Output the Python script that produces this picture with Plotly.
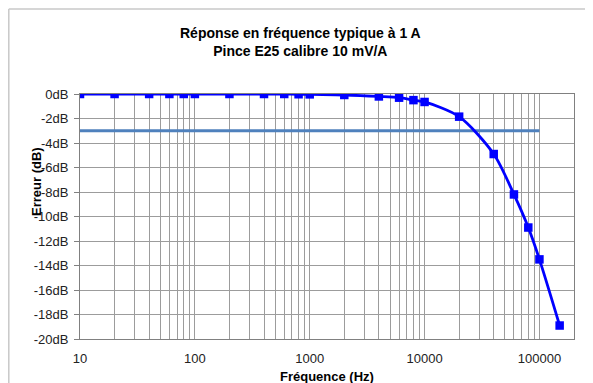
import plotly.graph_objects as go

# ---- data ----
freq_hz = [10, 20, 40, 60, 80, 100, 200, 400, 600, 800, 1000, 2000, 4000, 6000,
           8000, 10000, 20000, 40000, 60000, 80000, 100000, 150000]
error_db = [0, 0, 0, 0, 0, 0, 0, 0, 0, -0.02, -0.03, -0.08, -0.2, -0.3,
            -0.5, -0.65, -1.85, -4.9, -8.2, -10.9, -13.5, -18.9]
ref_freq = [10, 100000]
ref_db = [-3, -3]

x_grid_vals = [m * 10 ** e for e in range(1, 5) for m in range(1, 10)] + [100000]
x_tick_labels = ["10", "100", "1000", "10000", "100000"]
y_tick_vals = [0, -2, -4, -6, -8, -10, -12, -14, -16, -18, -20]
y_tick_labels = ["0dB", "-2dB", "-4dB", "-6dB", "-8dB", "-10dB", "-12dB",
                 "-14dB", "-16dB", "-18dB", "-20dB"]

title_text = "<b>Réponse en fréquence typique à 1 A<br>Pince E25 calibre 10 mV/A</b>"
x_title = "<b>Fréquence (Hz)</b>"
y_title = "<b>Erreur (dB)</b>"

label_map = {10: "10", 100: "100", 1000: "1000", 10000: "10000", 100000: "100000"}
x_text = [label_map.get(v, "") for v in x_grid_vals]

FONT = "Liberation Sans, Arial, sans-serif"
W, H = 585, 375          # page body has an 8px margin
L, R, T, B = 72, 19, 86, 44
PW, PH = W - L - R, H - T - B


def px_x(px):  # figure pixel -> paper x
    return (px - L) / PW


def px_y(py):  # figure pixel -> paper y
    return (H - B - py) / PH


fig = go.Figure()
fig.add_trace(go.Scatter(
    x=ref_freq, y=ref_db, mode="lines",
    line=dict(color="#4f81bd", width=3), hoverinfo="skip", showlegend=False))
fig.add_trace(go.Scatter(
    x=freq_hz, y=error_db, mode="lines+markers",
    line=dict(color="#0000ff", width=2.8, shape="spline", smoothing=0.8),
    marker=dict(symbol="square", size=8.5, color="#0000ff"),
    showlegend=False))

fig.update_layout(
    width=W, height=H,
    margin=dict(l=L, r=R, t=T, b=B),
    paper_bgcolor="white", plot_bgcolor="white",
    font=dict(family=FONT, size=13, color="#222222"),
    showlegend=False,
    annotations=[
        dict(text=title_text, x=px_x(292), y=px_y(34),
             xref="paper", yref="paper", showarrow=False,
             xanchor="center", yanchor="middle",
             font=dict(family=FONT, size=14, color="black")),
        dict(text=x_title, x=0.5, y=px_y(368),
             xref="paper", yref="paper", showarrow=False,
             xanchor="center", yanchor="middle",
             font=dict(family=FONT, size=13, color="black")),
        dict(text=y_title, x=px_x(28), y=px_y(174),
             xref="paper", yref="paper", showarrow=False, textangle=-90,
             xanchor="center", yanchor="middle",
             font=dict(family=FONT, size=13, color="black")),
    ],
    shapes=[
        dict(type="line", xref="paper", yref="paper",
             x0=px_x(0.8), x1=px_x(0.8), y0=px_y(H + 5), y1=px_y(1),
             line=dict(color="#c8c8c8", width=1.5)),
        dict(type="line", xref="paper", yref="paper",
             x0=px_x(0.8), x1=px_x(W + 5), y0=px_y(1), y1=px_y(1),
             line=dict(color="#c8c8c8", width=1.5)),
    ],
)

fig.update_xaxes(
    type="log", range=[1, 5.301],
    tickmode="array", tickvals=x_grid_vals, ticktext=x_text,
    showgrid=True, gridcolor="#9c9c9c", gridwidth=1,
    ticks="outside", ticklen=7, tickcolor="rgba(0,0,0,0)",
    showline=True, linecolor="#808080", linewidth=1, mirror=True,
    zeroline=False, tickfont=dict(size=13, color="#222222"),
)
fig.update_yaxes(
    range=[-20, 0],
    tickmode="array", tickvals=y_tick_vals, ticktext=y_tick_labels,
    showgrid=True, gridcolor="#9c9c9c", gridwidth=1,
    ticks="outside", ticklen=5, tickcolor="#808080",
    ticklabelstandoff=3,
    showline=True, linecolor="#808080", linewidth=1, mirror=True,
    zeroline=False, tickfont=dict(size=13, color="#222222"),
)

fig.write_html("out.html")
